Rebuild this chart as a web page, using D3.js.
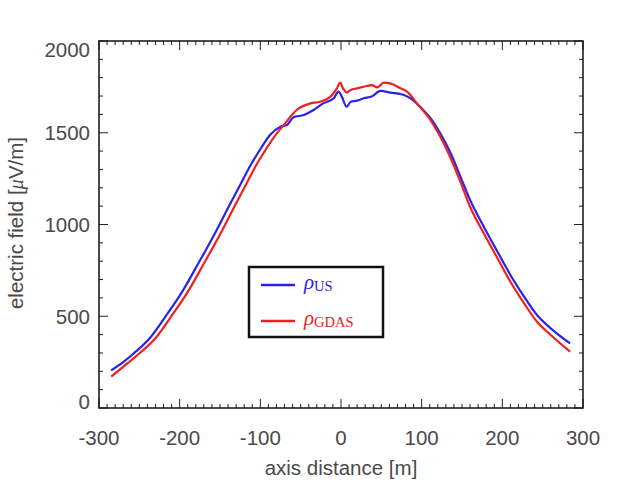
<!DOCTYPE html>
<html>
<head>
<meta charset="utf-8">
<script src="https://cdn.jsdelivr.net/npm/d3@7"></script>
<style>
  body { margin: 0; background: #fff; }
  text { font-family: "Liberation Sans", Arial, sans-serif; fill: #4a4a4a; }
</style>
</head>
<body>
<div id="chart"></div>
<script>
const width = 617;
const height = 492;

// Marges autour du cadre du graphique
const margin = { top: 41, right: 34, bottom: 84, left: 99 };

// Données
const distUS = [-285, -270, -256, -236, -217, -196, -177, -157, -137, -125, -112, -100, -88, -75, -67, -59, -46, -34, -22, -9, -3, 1, 7, 12, 20, 28, 38, 49, 61, 78, 86, 98, 111, 123, 136, 148, 160, 177, 194, 210, 227, 243, 260, 284];
const fieldUS = [205, 250, 301, 386, 502, 640, 787, 946, 1116, 1215, 1324, 1410, 1488, 1533, 1542, 1584, 1597, 1624, 1660, 1688, 1724, 1697, 1642, 1669, 1675, 1688, 1697, 1728, 1719, 1706, 1688, 1642, 1579, 1497, 1388, 1261, 1134, 988, 852, 725, 607, 507, 434, 352];

const distGDAS = [-285, -263, -249, -229, -210, -189, -170, -150, -130, -118, -105, -93, -81, -71, -55, -38, -26, -13, -5, -1, 2.5, 7, 12, 20, 32, 38, 45, 53, 61, 74, 82, 94, 111, 123, 136, 148, 160, 177, 194, 210, 227, 243, 260, 284];
const fieldGDAS = [171, 250, 301, 386, 502, 640, 787, 946, 1116, 1215, 1324, 1410, 1488, 1542, 1624, 1660, 1669, 1697, 1742, 1773, 1742, 1719, 1733, 1742, 1755, 1760, 1747, 1773, 1769, 1742, 1724, 1660, 1569, 1479, 1361, 1233, 1097, 952, 816, 688, 570, 470, 398, 307];

const xTicks = [-300, -200, -100, 0, 100, 200, 300];
const yTicks = [0, 500, 1000, 1500, 2000];

const w = width - margin.left - margin.right;
const h = height - margin.top - margin.bottom;

const svg = d3.select("#chart")
    .append("svg")
    .attr("width", width)
    .attr("height", height);

const g = svg.append("g")
    .attr("transform", `translate(${margin.left}, ${margin.top})`);

const x = d3.scaleLinear().domain([-300, 300]).range([0, w]);
const y = d3.scaleLinear().domain([0, 2000]).range([h, 0]);

// Graduations (vers l'intérieur, sur les quatre côtés)
const tickColor = "#222";
const xMinor = d3.range(-300, 301, 10);
const yMinor = d3.range(0, 2001, 100);

xMinor.forEach(v => {
    const major = v % 100 === 0;
    const len = major ? 9 : 4;
    g.append("line").attr("x1", x(v)).attr("x2", x(v)).attr("y1", h).attr("y2", h - len)
        .attr("stroke", tickColor).attr("stroke-width", 1);
    g.append("line").attr("x1", x(v)).attr("x2", x(v)).attr("y1", 0).attr("y2", len)
        .attr("stroke", tickColor).attr("stroke-width", 1);
});
yMinor.forEach(v => {
    const major = v % 500 === 0;
    const len = major ? 9 : 4;
    g.append("line").attr("x1", 0).attr("x2", len).attr("y1", y(v)).attr("y2", y(v))
        .attr("stroke", tickColor).attr("stroke-width", 1);
    g.append("line").attr("x1", w).attr("x2", w - len).attr("y1", y(v)).attr("y2", y(v))
        .attr("stroke", tickColor).attr("stroke-width", 1);
});

// Étiquettes des axes
g.selectAll(".xlab").data(xTicks).enter().append("text")
    .attr("x", d => x(d))
    .attr("y", h + 37)
    .attr("text-anchor", "middle")
    .style("font-size", "20.5px")
    .text(d => d);

g.selectAll(".ylab").data(yTicks).enter().append("text")
    .attr("x", -9)
    .attr("y", d => Math.min(Math.max(y(d), 8), h - 7) + 7.5)
    .attr("text-anchor", "end")
    .style("font-size", "20.5px")
    .text(d => d);

g.append("text")
    .attr("x", x(0))
    .attr("y", h + 67)
    .attr("text-anchor", "middle")
    .style("font-size", "20.5px")
    .text("axis distance [m]");

const yt = svg.append("text")
    .attr("transform", "translate(23, 223) rotate(-90)")
    .attr("text-anchor", "middle")
    .style("font-size", "20.5px");
yt.append("tspan").text("electric field [");
yt.append("tspan").style("font-style", "italic").style("font-family", "'Liberation Serif', serif").text("\u03BC");
yt.append("tspan").text("V/m]");

// Courbes
const line = d3.line().x(d => x(d[0])).y(d => y(d[1])).curve(d3.curveMonotoneX);
const blue = "#2a22e8";
const red = "#f02020";

g.append("path")
    .datum(d3.zip(distUS, fieldUS))
    .attr("d", line)
    .attr("fill", "none")
    .attr("stroke", blue)
    .attr("stroke-width", 2.2)
    .attr("stroke-linejoin", "round");

g.append("path")
    .datum(d3.zip(distGDAS, fieldGDAS))
    .attr("d", line)
    .attr("fill", "none")
    .attr("stroke", red)
    .attr("stroke-width", 2.2)
    .attr("stroke-linejoin", "round");

// Cadre
g.append("rect")
    .attr("width", w).attr("height", h)
    .attr("fill", "none")
    .attr("stroke", "#111")
    .attr("stroke-width", 1.5);

// Légende
const leg = svg.append("g").attr("transform", "translate(249, 267)");
leg.append("rect")
    .attr("width", 134).attr("height", 70)
    .attr("fill", "white")
    .attr("stroke", "#111")
    .attr("stroke-width", 2.5);

const legItems = [
    { sub: "US", color: blue, y: 18 },
    { sub: "GDAS", color: red, y: 54 }
];
legItems.forEach(it => {
    leg.append("line")
        .attr("x1", 12).attr("x2", 46)
        .attr("y1", it.y).attr("y2", it.y)
        .attr("stroke", it.color).attr("stroke-width", 2.5);
    const t = leg.append("text")
        .attr("x", 55).attr("y", it.y + 4)
        .style("font-family", "'Liberation Serif', 'DejaVu Serif', serif")
        .style("fill", it.color);
    t.append("tspan").style("font-style", "italic").style("font-size", "21px").style("fill", it.color).text("\u03C1");
    t.append("tspan").attr("dy", 2).style("font-size", "14.5px").style("fill", it.color).text(it.sub);
});
</script>
</body>
</html>
